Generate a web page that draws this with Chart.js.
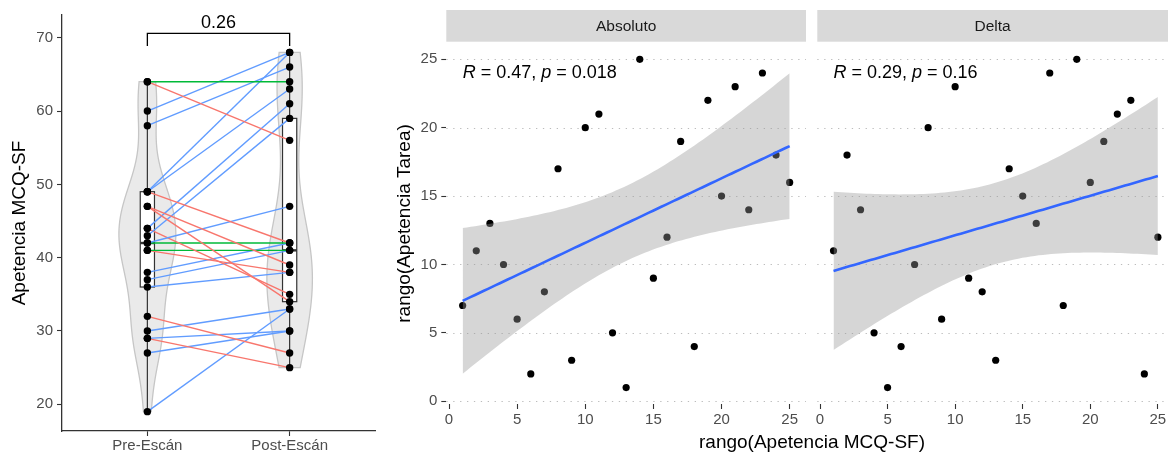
<!DOCTYPE html>
<html lang="es">
<head>
<meta charset="UTF-8">
<title>Apetencia MCQ-SF: Pre vs Post y correlaciones</title>
<style>
    body {
        margin: 0;
        background: #fff;
        font-family: "Liberation Sans", Arial, sans-serif;
    }

    .wrap {
        position: relative;
        width: 1172px;
        height: 455px;
        overflow: hidden;
    }

    canvas {
        position: absolute;
        top: 0;
    }

    #pairChart { left: 0; }
    #absChart { left: 388px; }
    #deltaChart { left: 810px; }

    .xtitle {
        position: absolute;
        left: 612px;
        width: 400px;
        top: 430px;
        line-height: 24px;
        text-align: center;
        font-size: 19px;
        color: #000;
    }
</style>
</head>
<body>
<div class="wrap">
    <canvas id="pairChart" width="390" height="455"></canvas>
    <canvas id="absChart" width="422" height="455"></canvas>
    <canvas id="deltaChart" width="362" height="455"></canvas>
    <div class="xtitle">rango(Apetencia MCQ-SF)</div>
</div>

<script src="https://cdn.jsdelivr.net/npm/chart.js"></script>
<script>
    // ---- data ----
    const timepoints = ['Pre-Escán', 'Post-Escán'];
    const preScores  = [64, 64, 60, 58, 49, 49, 49, 47, 47, 44, 43, 42, 44, 42, 41, 41, 38, 37, 36, 32, 30, 29, 29, 27, 19];
    const postScores = [64, 56, 68, 66, 68, 63, 42, 39, 34, 61, 59, 47, 35, 42, 41, 38, 42, 41, 38, 27, 33, 30, 25, 30, 33];
    const pairTicks = [20, 30, 40, 50, 60, 70];
    const pairedP = '0.26';

    const facetNames = ['Absoluto', 'Delta'];
    const absRankX   = [1, 2, 3, 4, 5, 6, 7, 8, 9, 10, 11, 12, 13, 14, 15, 16, 17, 18, 19, 20, 21, 22, 23, 24, 25];
    const absRankY   = [7, 11, 13, 10, 6, 2, 8, 17, 3, 20, 21, 5, 1, 25, 9, 12, 19, 4, 22, 15, 23, 14, 24, 18, 16];
    const deltaRankX = [1, 2, 3, 4, 5, 6, 7, 8, 9, 10, 11, 12, 13, 14, 15, 16, 17, 18, 19, 20, 21, 22, 23, 24, 25];
    const deltaRankY = [11, 18, 14, 5, 1, 4, 10, 20, 6, 23, 9, 8, 3, 17, 15, 13, 24, 7, 25, 16, 19, 21, 22, 2, 12];
    const rankTicks  = [0, 5, 10, 15, 20, 25];
    const corrR = ['0.47', '0.29'];
    const corrP = ['0.018', '0.16'];

    Chart.defaults.font.family = '"Liberation Sans", Arial, sans-serif';

    const changeColors = { down: '#F8766D', same: '#00BA38', up: '#619CFF' };
    const tickGrey = '#4d4d4d';

    // ---- helpers ----
    function mean(a) { return a.reduce((s, v) => s + v, 0) / a.length; }

    function quantile(sorted, p) {
        const h = (sorted.length - 1) * p;
        const lo = Math.floor(h);
        const hi = Math.min(lo + 1, sorted.length - 1);
        return sorted[lo] + (h - lo) * (sorted[hi] - sorted[lo]);
    }

    function boxStats(vals) {
        const s = [...vals].sort((a, b) => a - b);
        const q1 = quantile(s, 0.25), med = quantile(s, 0.5), q3 = quantile(s, 0.75);
        const iqr = q3 - q1;
        const lo = Math.min(...s.filter(v => v >= q1 - 1.5 * iqr));
        const hi = Math.max(...s.filter(v => v <= q3 + 1.5 * iqr));
        return { q1, med, q3, lo, hi };
    }

    // gaussian kde over the data range (like geom_violin, trim = TRUE)
    function density(vals) {
        const n = vals.length;
        const s = [...vals].sort((a, b) => a - b);
        const m = mean(vals);
        const sd = Math.sqrt(vals.reduce((acc, v) => acc + (v - m) ** 2, 0) / (n - 1));
        const iqr = quantile(s, 0.75) - quantile(s, 0.25);
        const bw = 0.9 * Math.min(sd, iqr / 1.34) * Math.pow(n, -0.2);
        const out = [];
        for (let i = 0; i < 512; i++) {
            const yv = s[0] + (s[n - 1] - s[0]) * i / 511;
            let d = 0;
            vals.forEach(v => { const z = (yv - v) / bw; d += Math.exp(-0.5 * z * z); });
            out.push({ y: yv, d: d / (n * bw * Math.sqrt(2 * Math.PI)) });
        }
        return out;
    }

    // lm fit with 95% confidence band, 80 points like stat_smooth
    function fitLine(xs, ys) {
        const n = xs.length;
        const mx = mean(xs), my = mean(ys);
        let sxx = 0, sxy = 0;
        xs.forEach((x, i) => { sxx += (x - mx) ** 2; sxy += (x - mx) * (ys[i] - my); });
        const b = sxy / sxx, a = my - b * mx;
        let sse = 0;
        xs.forEach((x, i) => { sse += (ys[i] - a - b * x) ** 2; });
        const s = Math.sqrt(sse / (n - 2));
        const t = 2.0687; // qt(0.975, 23)
        const x0 = Math.min(...xs), x1 = Math.max(...xs);
        const line = [], upper = [], lower = [];
        for (let i = 0; i < 80; i++) {
            const x = x0 + (x1 - x0) * i / 79;
            const yh = a + b * x;
            const se = s * Math.sqrt(1 / n + (x - mx) ** 2 / sxx);
            line.push({ x, y: yh });
            upper.push({ x, y: yh + t * se });
            lower.push({ x, y: yh - t * se });
        }
        return { line, upper, lower };
    }

    // ---- left panel: paired pre/post ----
    const groups = [preScores, postScores];
    const dens = groups.map(density);
    const densMax = Math.max(...dens.flat().map(p => p.d));
    const violinHalf = 0.2;
    const boxHalf = 0.05;

    const violinBoxPlugin = {
        id: 'violinBox',
        beforeDatasetsDraw(chart) {
            const { ctx, chartArea: area, scales: { x, y } } = chart;
            ctx.save();
            ctx.beginPath();
            ctx.rect(area.left, area.top, area.right - area.left, area.bottom - area.top);
            ctx.clip();

            dens.forEach((pts, gi) => {
                const cx = gi + 1;
                ctx.beginPath();
                pts.forEach((p, i) => {
                    const px = x.getPixelForValue(cx - violinHalf * p.d / densMax);
                    const py = y.getPixelForValue(p.y);
                    if (i === 0) ctx.moveTo(px, py); else ctx.lineTo(px, py);
                });
                for (let i = pts.length - 1; i >= 0; i--) {
                    const p = pts[i];
                    ctx.lineTo(x.getPixelForValue(cx + violinHalf * p.d / densMax), y.getPixelForValue(p.y));
                }
                ctx.closePath();
                ctx.fillStyle = 'rgba(180, 180, 180, 0.28)';
                ctx.fill();
                ctx.strokeStyle = '#c6c6c6';
                ctx.lineWidth = 1.3;
                ctx.stroke();
            });

            groups.forEach((vals, gi) => {
                const cx = gi + 1;
                const st = boxStats(vals);
                const xc = x.getPixelForValue(cx);
                const xl = x.getPixelForValue(cx - boxHalf);
                const xr = x.getPixelForValue(cx + boxHalf);
                ctx.strokeStyle = '#333';
                ctx.lineWidth = 1.2;
                ctx.beginPath();
                ctx.moveTo(xc, y.getPixelForValue(st.q3));
                ctx.lineTo(xc, y.getPixelForValue(st.hi));
                ctx.moveTo(xc, y.getPixelForValue(st.q1));
                ctx.lineTo(xc, y.getPixelForValue(st.lo));
                ctx.stroke();
                const yt = y.getPixelForValue(st.q3), yb = y.getPixelForValue(st.q1);
                ctx.fillStyle = '#fff';
                ctx.fillRect(xl, yt, xr - xl, yb - yt);
                ctx.strokeRect(xl, yt, xr - xl, yb - yt);
                ctx.lineWidth = 2.4;
                ctx.beginPath();
                ctx.moveTo(xl, y.getPixelForValue(st.med));
                ctx.lineTo(xr, y.getPixelForValue(st.med));
                ctx.stroke();
            });
            ctx.restore();
        }
    };

    const allScores = preScores.concat(postScores);
    const scoreMax = Math.max(...allScores), scoreMin = Math.min(...allScores);
    const bracketY = scoreMax + 0.053 * (scoreMax - scoreMin);
    const bracketTip = bracketY - 0.035 * (scoreMax - scoreMin);

    const bracketLabelPlugin = {
        id: 'bracketLabel',
        afterDatasetsDraw(chart) {
            const { ctx, scales: { x, y } } = chart;
            ctx.save();
            ctx.font = '18px "Liberation Sans", Arial, sans-serif';
            ctx.fillStyle = '#000';
            ctx.textAlign = 'center';
            ctx.textBaseline = 'bottom';
            ctx.fillText(pairedP, x.getPixelForValue(1.5), y.getPixelForValue(bracketY) - 1);
            ctx.restore();
        }
    };

    const pairLines = preScores.map((pre, i) => {
        const post = postScores[i];
        const col = post > pre ? changeColors.up : (post < pre ? changeColors.down : changeColors.same);
        return {
            type: 'line',
            data: [{ x: 1, y: pre }, { x: 2, y: post }],
            borderColor: col,
            borderWidth: 1.4,
            pointRadius: 0,
            fill: false,
            order: 1
        };
    });

    new Chart(document.getElementById('pairChart'), {
        type: 'scatter',
        data: {
            datasets: [
                ...pairLines,
                {
                    data: preScores.map(v => ({ x: 1, y: v })),
                    backgroundColor: '#000', borderWidth: 0, pointRadius: 3.7, order: 0
                },
                {
                    data: postScores.map(v => ({ x: 2, y: v })),
                    backgroundColor: '#000', borderWidth: 0, pointRadius: 3.7, order: 0
                },
                {
                    type: 'line',
                    data: [{ x: 1, y: bracketTip }, { x: 1, y: bracketY }, { x: 2, y: bracketY }, { x: 2, y: bracketTip }],
                    borderColor: '#000', borderWidth: 1.3, pointRadius: 0, fill: false, order: 0
                }
            ]
        },
        options: {
            responsive: false,
            animation: false,
            events: [],
            layout: { padding: { top: 15, right: 15, left: 0, bottom: 0 } },
            plugins: { legend: { display: false }, tooltip: { enabled: false } },
            scales: {
                x: {
                    type: 'linear', min: 0.4, max: 2.6,
                    afterBuildTicks: s => { s.ticks = [1, 2].map(v => ({ value: v })); },
                    afterFit: s => { s.height = 24; },
                    ticks: { callback: v => timepoints[v - 1], color: tickGrey, font: { size: 15 }, padding: 1, maxRotation: 0 },
                    grid: { drawOnChartArea: false, tickLength: 5, tickColor: '#333', tickWidth: 1.1 },
                    border: { color: '#333', width: 1.3 }
                },
                y: {
                    min: 16.36, max: 73.1,
                    afterBuildTicks: s => { s.ticks = pairTicks.map(v => ({ value: v })); },
                    afterFit: s => { s.width = 62; },
                    ticks: { color: tickGrey, font: { size: 15 }, padding: 4 },
                    grid: { drawOnChartArea: false, tickLength: 5, tickColor: '#333', tickWidth: 1.1 },
                    border: { color: '#333', width: 1.3 },
                    title: { display: true, text: 'Apetencia MCQ-SF', color: '#000', font: { size: 19 }, padding: { top: 8, bottom: 0 } }
                }
            }
        },
        plugins: [violinBoxPlugin, bracketLabelPlugin]
    });

    // ---- right panels: rank correlations ----
    const facetDecor = {
        id: 'facetDecor',
        beforeDatasetsDraw(chart, args, o) {
            const { ctx, chartArea: a, scales: { y } } = chart;
            ctx.save();
            ctx.fillStyle = '#d9d9d9';
            ctx.fillRect(a.left, 10, a.right - a.left, 31.7);
            ctx.fillStyle = '#1a1a1a';
            ctx.font = '15.5px "Liberation Sans", Arial, sans-serif';
            ctx.textAlign = 'center';
            ctx.textBaseline = 'middle';
            ctx.fillText(o.label, (a.left + a.right) / 2, 26.5);

            ctx.strokeStyle = '#bcbcbc';
            ctx.lineWidth = 1.2;
            ctx.setLineDash([1.3, 5.6]);
            rankTicks.forEach(v => {
                const py = Math.round(y.getPixelForValue(v)) + 0.5;
                ctx.beginPath();
                ctx.moveTo(a.left, py);
                ctx.lineTo(a.right, py);
                ctx.stroke();
            });
            ctx.restore();
        },
        afterDatasetsDraw(chart, args, o) {
            const { ctx, scales: { x, y } } = chart;
            const parts = [
                ['R', true], [' = ' + o.r + ', ', false], ['p', true], [' = ' + o.p, false]
            ];
            ctx.save();
            ctx.fillStyle = '#000';
            ctx.textBaseline = 'middle';
            ctx.textAlign = 'left';
            let px = x.getPixelForValue(o.x);
            const py = y.getPixelForValue(o.y);
            parts.forEach(([txt, ital]) => {
                ctx.font = (ital ? 'italic ' : '') + '18px "Liberation Sans", Arial, sans-serif';
                ctx.fillText(txt, px, py);
                px += ctx.measureText(txt).width;
            });
            ctx.restore();
        }
    };

    function facetChart(canvasId, xs, ys, k, cfg) {
        const fit = fitLine(xs, ys);
        return new Chart(document.getElementById(canvasId), {
            type: 'scatter',
            data: {
                datasets: [
                    { type: 'line', data: fit.line, borderColor: '#3366FF', borderWidth: 2.6, pointRadius: 0, fill: false, order: 0 },
                    { type: 'line', data: fit.upper, borderColor: 'transparent', borderWidth: 0, pointRadius: 0, fill: false, order: 1 },
                    { type: 'line', data: fit.lower, borderColor: 'transparent', borderWidth: 0, pointRadius: 0,
                      fill: '-1', backgroundColor: 'rgba(153, 153, 153, 0.4)', order: 1 },
                    { data: xs.map((x, i) => ({ x, y: ys[i] })), backgroundColor: '#000', borderWidth: 0, pointRadius: 3.6, order: 2 }
                ]
            },
            options: {
                responsive: false,
                animation: false,
                events: [],
                layout: { padding: { top: 42.9, right: cfg.padRight, left: 0, bottom: 0 } },
                plugins: {
                    legend: { display: false },
                    tooltip: { enabled: false },
                    facetDecor: {
                        label: facetNames[k], r: corrR[k], p: corrP[k],
                        x: Math.min(...xs), y: Math.max(...ys) - 1
                    }
                },
                scales: {
                    x: {
                        type: 'linear', min: -0.2, max: cfg.xMax,
                        afterBuildTicks: s => { s.ticks = rankTicks.map(v => ({ value: v })); },
                        afterFit: s => { s.height = 51; },
                        ticks: { color: tickGrey, font: { size: 15 }, padding: 2, maxRotation: 0 },
                        grid: { drawOnChartArea: false, tickLength: 5, tickColor: '#333', tickWidth: 1.1 },
                        border: { display: false }
                    },
                    y: {
                        min: -0.2, max: 26.2,
                        afterBuildTicks: s => { s.ticks = rankTicks.map(v => ({ value: v })); },
                        afterFit: s => { s.width = cfg.yWidth; },
                        ticks: { display: cfg.showY, color: tickGrey, font: { size: 15 }, padding: 4 },
                        grid: { drawOnChartArea: false, drawTicks: cfg.showY, tickLength: 5, tickColor: '#333', tickWidth: 1.1 },
                        border: { display: false },
                        title: { display: cfg.showY, text: 'rango(Apetencia Tarea)', color: '#000', font: { size: 19 }, padding: { top: 5.6, bottom: 0 } }
                    }
                }
            },
            plugins: [facetDecor]
        });
    }

    facetChart('absChart', absRankX, absRankY, 0, { showY: true, yWidth: 58.3, padRight: 2, xMax: 26.2 });
    facetChart('deltaChart', deltaRankX, deltaRankY, 1, { showY: false, yWidth: 7.3, padRight: 0, xMax: 25.75 });
</script>
</body>
</html>
